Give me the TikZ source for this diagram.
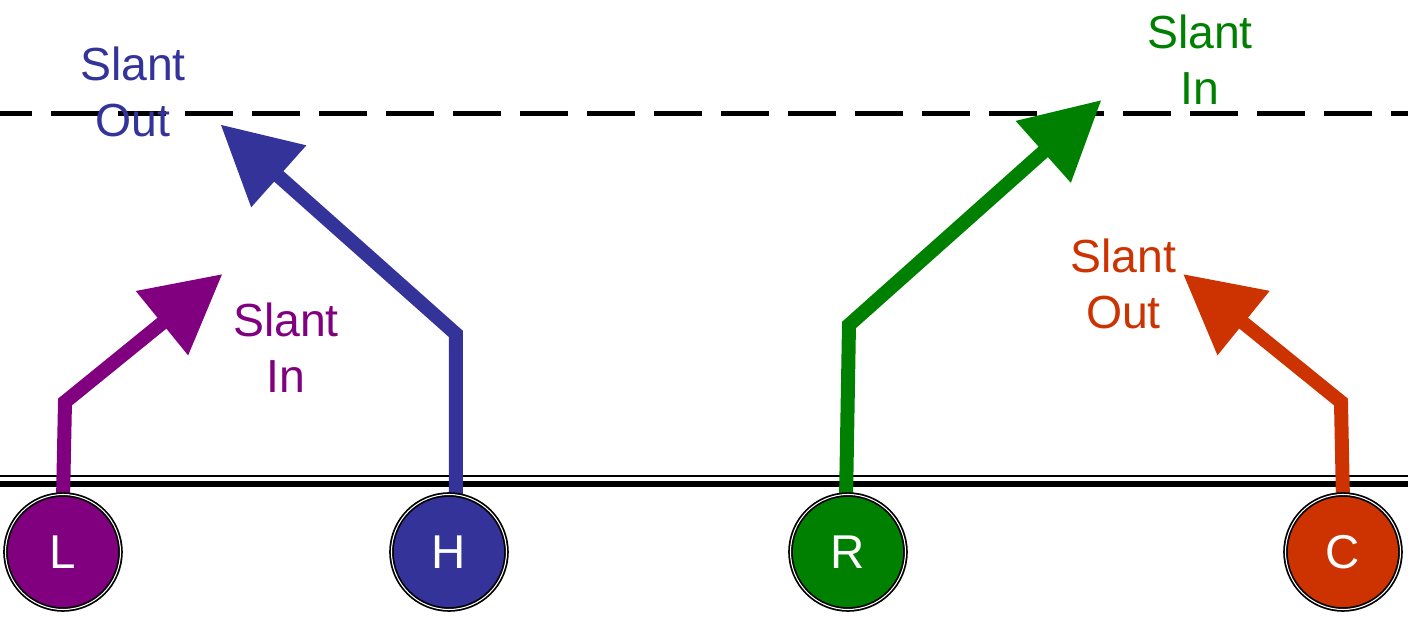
\documentclass[tikz,border=0pt]{standalone}
\usepackage{fontspec}
\setmainfont{Liberation Sans}
\usepackage{tikz}
\usetikzlibrary{arrows.meta}
\pgfdeclarelayer{edgelayer}
\pgfdeclarelayer{nodelayer}
\pgfsetlayers{edgelayer,nodelayer,main}
\definecolor{routepurple}{HTML}{800080}
\definecolor{routeblue}{HTML}{333399}
\definecolor{routegreen}{HTML}{008000}
\definecolor{routeorange}{HTML}{CC3300}
\tikzstyle{none}=[inner sep=0pt]
\tikzstyle{player}=[circle, minimum size=2.3cm, inner sep=0pt, draw=black, line width=1pt, double=white, double distance=0.6pt, text=white, font=\fontsize{27}{32}\selectfont]
\tikzstyle{route}=[line width=0.28cm, -{Triangle[length=1.56cm,width=1.58cm]}]
\tikzstyle{call}=[align=center, inner sep=0pt, font=\fontsize{26.4}{31.7}\selectfont]

\begin{document}
\begin{tikzpicture}
	\useasboundingbox (-14.08, -6.18) rectangle (14.08, 6.18);
	\begin{pgfonlayer}{nodelayer}
		\node [style=player, fill=routepurple] (0) at (-12.82, -4.86) {L};
		\node [style=player, fill=routeblue] (1) at (-5.10, -4.86) {H};
		\node [style=player, fill=routegreen] (2) at (2.88, -4.86) {R};
		\node [style=player, fill=routeorange] (3) at (12.78, -4.86) {C};
		\node [style=none] (4) at (-12.82, -3.84) {};
		\node [style=none] (5) at (-12.78, -1.86) {};
		\node [style=none] (6) at (-9.63, 0.70) {};
		\node [style=none] (7) at (-4.96, -3.84) {};
		\node [style=none] (8) at (-4.96, -0.50) {};
		\node [style=none] (9) at (-9.67, 3.69) {};
		\node [style=none] (10) at (2.84, -3.84) {};
		\node [style=none] (11) at (2.90, -0.32) {};
		\node [style=none] (12) at (7.95, 4.18) {};
		\node [style=none] (13) at (12.78, -3.84) {};
		\node [style=none] (14) at (12.74, -1.86) {};
		\node [style=none] (15) at (9.58, 0.70) {};
		\node [style=none] (16) at (-14.08, 3.91) {};
		\node [style=none] (17) at (14.08, 3.91) {};
		\node [style=none] (18) at (-14.08, -3.35) {};
		\node [style=none] (19) at (14.08, -3.35) {};
		\node [style=none] (20) at (-14.08, -3.50) {};
		\node [style=none] (21) at (14.08, -3.50) {};
		\node [style=call, text=routeblue] (22) at (-11.42, 4.34) {Slant\\Out};
		\node [style=call, text=routepurple] (23) at (-8.36, -0.78) {Slant\\In};
		\node [style=call, text=routegreen] (24) at (9.92, 4.98) {Slant\\In};
		\node [style=call, text=routeorange] (25) at (8.39, 0.50) {Slant\\Out};
	\end{pgfonlayer}
	\begin{pgfonlayer}{edgelayer}
		\draw [line width=0.1cm, dash pattern=on 0.96cm off 0.38cm, dash phase=0.32cm] (16.center) to (17.center);
		\draw [line width=0.04cm] (18.center) to (19.center);
		\draw [line width=0.13cm] (20.center) to (21.center);
		\draw [style=route, routepurple] (4.center) to (5.center) to (6.center);
		\draw [style=route, routeblue] (7.center) to (8.center) to (9.center);
		\draw [style=route, routegreen] (10.center) to (11.center) to (12.center);
		\draw [style=route, routeorange] (13.center) to (14.center) to (15.center);
	\end{pgfonlayer}
\end{tikzpicture}
\end{document}
